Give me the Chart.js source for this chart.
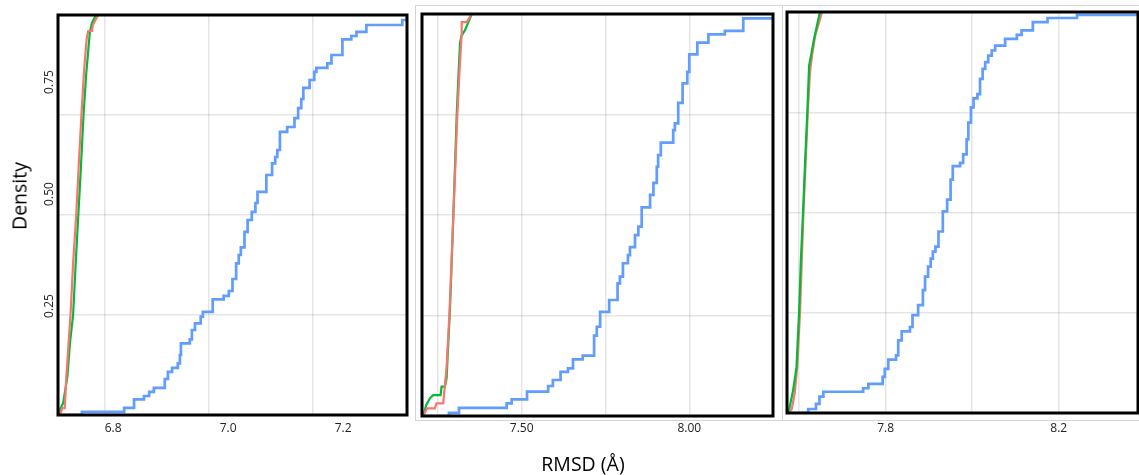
<!DOCTYPE html>
<html>
<head>
<meta charset="utf-8">
<script src="https://cdn.jsdelivr.net/npm/chart.js@4.4.1/dist/chart.umd.min.js"></script>
<style>
  body { margin: 0; background: #fff; width: 1139px; height: 475px; overflow: hidden; position: relative; font-family: "Open Sans", sans-serif; }
  canvas, .box, .lbl { position: absolute; }
  .box { border: 1px solid #d4d4d4; }
  .lbl { font-size: 19.5px; color: #000; transform: translate(-50%, -50%); white-space: nowrap; }
</style>
</head>
<body>
<div class="box" style="left:415px;top:5px;width:366px;height:414px"></div>
<div class="box" style="left:782px;top:5px;width:370px;height:414px"></div>
<canvas id="p1" width="412" height="445" style="left:0;top:0"></canvas>
<canvas id="p2" width="380" height="445" style="left:400px;top:0"></canvas>
<canvas id="p3" width="369" height="445" style="left:770px;top:0"></canvas>
<div class="lbl" style="left:19px;top:196px;transform:translate(-50%,-50%) rotate(-90deg)">Density</div>
<div class="lbl" style="left:583px;top:463px">RMSD (Å)</div>
<script>
// panel 1
const p1RedX = [6.715, 6.719, 6.724, 6.727, 6.735, 6.740, 6.746, 6.751, 6.756, 6.761, 6.766, 6.769, 6.776, 6.778, 6.788];
const p1RedY = [0, 0.017, 0.017, 0.096, 0.25, 0.38, 0.5, 0.63, 0.75, 0.86, 0.94, 0.96, 0.96, 0.975, 1.0];
const p1GreenX = [6.713, 6.716, 6.721, 6.729, 6.734, 6.740, 6.745, 6.750, 6.755, 6.760, 6.765, 6.772, 6.776, 6.784];
const p1GreenY = [0, 0.017, 0.03, 0.096, 0.18, 0.25, 0.38, 0.5, 0.62, 0.75, 0.85, 0.955, 0.98, 1.0];
const p1BlueX = [6.711, 6.757, 6.838, 6.857, 6.876, 6.886, 6.895, 6.916, 6.922, 6.930, 6.941, 6.945, 6.947, 6.964, 6.968, 6.974, 6.985, 6.989, 7.008, 7.029, 7.039, 7.046, 7.053, 7.058, 7.062, 7.069, 7.075, 7.083, 7.090, 7.094, 7.111, 7.122, 7.128, 7.132, 7.137, 7.151, 7.165, 7.172, 7.178, 7.182, 7.194, 7.203, 7.207, 7.228, 7.236, 7.257, 7.274, 7.284, 7.303, 7.372, 7.381];
const p1BlueY = [0, 0.008, 0.018, 0.039, 0.0475, 0.058, 0.068, 0.09, 0.108, 0.118, 0.129, 0.15, 0.179, 0.189, 0.2125, 0.229, 0.246, 0.258, 0.289, 0.298, 0.31, 0.34, 0.379, 0.40, 0.419, 0.458, 0.4875, 0.508, 0.53, 0.558, 0.6, 0.629, 0.645, 0.6625, 0.708, 0.72, 0.742, 0.767, 0.79, 0.818, 0.8375, 0.858, 0.868, 0.879, 0.9, 0.939, 0.9475, 0.958, 0.975, 0.9875, 0.995];
const p1XTicks = [6.8, 7.0, 7.2];

// panel 2
const p2RedX = [7.2065, 7.217, 7.241, 7.246, 7.266, 7.276, 7.284, 7.290, 7.296, 7.302, 7.308, 7.314, 7.321, 7.321, 7.336, 7.351];
const p2RedY = [0, 0.019, 0.019, 0.0316, 0.0316, 0.1226, 0.247, 0.37, 0.4975, 0.62, 0.749, 0.85, 0.952, 0.98, 0.98, 1.0];
const p2GreenX = [7.2065, 7.215, 7.226, 7.236, 7.258, 7.261, 7.271, 7.276, 7.281, 7.286, 7.291, 7.296, 7.301, 7.306, 7.311, 7.316, 7.320, 7.331, 7.351];
const p2GreenY = [0, 0.027, 0.044, 0.052, 0.052, 0.073, 0.073, 0.0945, 0.181, 0.264, 0.38, 0.496, 0.62, 0.746, 0.84, 0.927, 0.945, 0.96, 1.0];
const p2BlueX = [7.203, 7.283, 7.313, 7.455, 7.470, 7.516, 7.579, 7.593, 7.616, 7.638, 7.653, 7.682, 7.716, 7.724, 7.734, 7.761, 7.786, 7.793, 7.802, 7.817, 7.823, 7.838, 7.848, 7.858, 7.883, 7.893, 7.903, 7.907, 7.915, 7.952, 7.957, 7.967, 7.980, 7.994, 8.000, 8.024, 8.057, 8.106, 8.161, 8.250];
const p2BlueY = [0, 0.008, 0.02, 0.0316, 0.0415, 0.0605, 0.0746, 0.0896, 0.11, 0.1186, 0.141, 0.15, 0.2, 0.222, 0.259, 0.2886, 0.33, 0.3466, 0.38, 0.40, 0.42, 0.45, 0.471, 0.519, 0.55, 0.58, 0.62, 0.649, 0.68, 0.711, 0.728, 0.779, 0.8275, 0.856, 0.8995, 0.9286, 0.9495, 0.958, 0.989, 0.989];
const p2XGrid = [7.25, 7.5, 7.75, 8.0];
const p2XLabels = [7.5, 8.0];

// panel 3
const p3RedX = [7.576, 7.583, 7.590, 7.596, 7.602, 7.610, 7.616, 7.620, 7.625, 7.631, 7.637, 7.653];
const p3RedY = [0, 0.01, 0.05, 0.12, 0.25, 0.5, 0.65, 0.75, 0.85, 0.9, 0.94, 1.0];
const p3GreenX = [7.572, 7.577, 7.582, 7.586, 7.594, 7.600, 7.604, 7.609, 7.614, 7.619, 7.623, 7.629, 7.634, 7.641, 7.648];
const p3GreenY = [0, 0.01, 0.035, 0.056, 0.115, 0.255, 0.38, 0.5, 0.63, 0.753, 0.866, 0.9, 0.93, 0.965, 1.0];
const p3BlueX = [7.572, 7.621, 7.639, 7.647, 7.656, 7.748, 7.760, 7.793, 7.798, 7.806, 7.824, 7.829, 7.837, 7.856, 7.862, 7.875, 7.886, 7.891, 7.898, 7.904, 7.909, 7.915, 7.922, 7.932, 7.942, 7.950, 7.955, 7.972, 7.979, 7.987, 7.991, 7.997, 8.003, 8.012, 8.018, 8.024, 8.030, 8.037, 8.045, 8.053, 8.076, 8.103, 8.114, 8.140, 8.174, 8.242, 8.383];
const p3BlueY = [0, 0.01, 0.0226, 0.041, 0.053, 0.0617, 0.0727, 0.09, 0.11, 0.133, 0.1436, 0.181, 0.2037, 0.2145, 0.244, 0.269, 0.3065, 0.34, 0.365, 0.385, 0.4025, 0.415, 0.4526, 0.503, 0.532, 0.582, 0.6155, 0.624, 0.645, 0.6825, 0.724, 0.762, 0.7845, 0.795, 0.833, 0.858, 0.875, 0.891, 0.904, 0.916, 0.933, 0.943, 0.954, 0.975, 0.985, 0.993, 0.993];
const p3XGrid = [7.6, 7.8, 8.0, 8.2];
const p3XLabels = [7.8, 8.2];

const yTicks = [0.25, 0.5, 0.75];

const colors = { red: '#F8766D', green: '#00BA38', blue: '#619CFF' };
const tickFont = { family: 'Open Sans', size: 12 };
const grid = { color: 'rgba(0,0,0,0.1)', lineWidth: 1.5, drawTicks: false };

function pts(xs, ys) {
  return xs.map((x, i) => ({ x, y: ys[i] }));
}

function setTicks(vals) {
  return s => { s.ticks = vals.map(v => ({ value: v })); };
}

// black box round the plot area
const frame = {
  id: 'frame',
  afterDraw(chart) {
    const { ctx, chartArea: a } = chart;
    ctx.save();
    ctx.strokeStyle = '#000';
    ctx.lineWidth = 3;
    ctx.strokeRect(a.left, a.top, a.right - a.left, a.bottom - a.top);
    ctx.restore();
  }
};

// 'before' = run flat at the old level, then jump (ECDF steps)
function ds(data, color, width, stepped) {
  return { data, borderColor: color, borderWidth: width, stepped, tension: 0, pointRadius: 0, fill: false };
}

function makeChart(id, datasets, scales, padding) {
  new Chart(document.getElementById(id), {
    type: 'line',
    data: { datasets },
    options: {
      responsive: false,
      animation: false,
      devicePixelRatio: 1,
      layout: { padding },
      plugins: { legend: { display: false }, tooltip: { enabled: false } },
      scales
    },
    plugins: [frame]
  });
}

const yGridOnly = {
  type: 'linear', min: 0, max: 1, grid, border: { display: false },
  ticks: { display: false }, afterBuildTicks: setTicks(yTicks), afterFit: s => { s.width = 0; }
};

makeChart('p1', [
  ds(pts(p1RedX, p1RedY), colors.red, 2.2, false),
  ds(pts(p1GreenX, p1GreenY), colors.green, 2.2, false),
  ds(pts(p1BlueX, p1BlueY), colors.blue, 2.7, 'before')
], {
  x: {
    type: 'linear', min: 6.711, max: 7.381, grid, border: { display: false },
    ticks: { display: false }, afterBuildTicks: setTicks(p1XTicks), afterFit: s => { s.height = 0; }
  },
  xl: {
    type: 'linear', position: 'bottom', min: 6.704, max: 7.311,
    grid: { display: false, drawTicks: false }, border: { display: false },
    ticks: { font: tickFont, color: '#222', padding: 6, callback: v => v.toFixed(1) },
    afterBuildTicks: setTicks(p1XTicks), afterFit: s => { s.height = 30; }
  },
  y: yGridOnly,
  yl: {
    type: 'linear', position: 'left', min: 0.0067, max: 0.8996,
    grid: { display: false, drawTicks: false }, border: { display: false },
    ticks: { font: tickFont, color: '#222', padding: -3, minRotation: 90, maxRotation: 90, crossAlign: 'center', callback: v => v.toFixed(2) },
    afterBuildTicks: setTicks(yTicks), afterFit: s => { s.width = 58; }
  }
}, { left: 0, top: 15, right: 5, bottom: 0 });

makeChart('p2', [
  ds(pts(p2RedX, p2RedY), colors.red, 2.2, false),
  ds(pts(p2GreenX, p2GreenY), colors.green, 2.2, false),
  ds(pts(p2BlueX, p2BlueY), colors.blue, 2.7, 'before')
], {
  x: {
    type: 'linear', min: 7.2026, max: 8.2497, grid, border: { display: false },
    ticks: { font: tickFont, color: '#222', padding: 5, callback: v => p2XLabels.includes(v) ? v.toFixed(2) : '' },
    afterBuildTicks: setTicks(p2XGrid), afterFit: s => { s.height = 29; }
  },
  y: yGridOnly
}, { left: 22, top: 14, right: 7, bottom: 0 });

makeChart('p3', [
  ds(pts(p3GreenX, p3GreenY), colors.green, 2.2, false),
  ds(pts(p3RedX, p3RedY), colors.red, 2.2, false),
  ds(pts(p3BlueX, p3BlueY), colors.blue, 2.7, 'before')
], {
  x: {
    type: 'linear', min: 7.572, max: 8.383, grid, border: { display: false },
    ticks: { font: tickFont, color: '#222', padding: 8, callback: v => p3XLabels.includes(v) ? v.toFixed(1) : '' },
    afterBuildTicks: setTicks(p3XGrid), afterFit: s => { s.height = 32; }
  },
  y: yGridOnly
}, { left: 17, top: 12, right: 1, bottom: 0 });
</script>
</body>
</html>
